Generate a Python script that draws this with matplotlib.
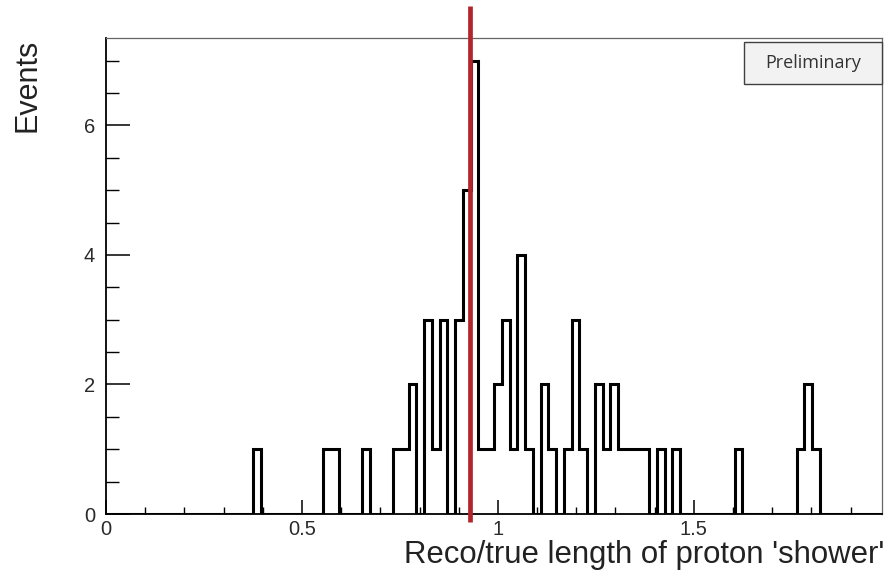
import numpy as np
import matplotlib
matplotlib.use("Agg")
import matplotlib.pyplot as plt
from matplotlib.ticker import MultipleLocator, FixedLocator
from matplotlib.patches import Rectangle

plt.rcParams['font.family'] = ['Liberation Sans', 'DejaVu Sans']

# ---- data ----
x_min, x_max, n_bins = 0.0, 1.98, 100
occupied_bins = [19, 28, 29, 33, 37, 38, 39, 41, 42, 43, 45, 46, 47, 48, 49, 50,
                 51, 52, 53, 54, 56, 57, 59, 60, 61, 63, 64, 65, 66, 67, 68, 69,
                 71, 73, 81, 89, 90, 91]
occupied_counts = [1, 1, 1, 1, 1, 1, 2, 3, 1, 3, 3, 5, 7, 1, 1, 2,
                   3, 1, 4, 1, 2, 1, 1, 3, 1, 2, 1, 2, 1, 1, 1, 1,
                   1, 1, 1, 1, 2, 1]
cut_value = 0.93
x_major_ticks = [0, 0.5, 1, 1.5]
x_tick_labels = ["0", "0.5", "1", "1.5"]
y_major_ticks = [0, 2, 4, 6]
y_tick_labels = ["0", "2", "4", "6"]
y_max = 7.35
x_title = "Reco/true length of proton 'shower'"
y_title = "Events"
badge_text = "Preliminary"

edges = np.linspace(x_min, x_max, n_bins + 1)
counts = np.zeros(n_bins)
counts[occupied_bins] = occupied_counts

W, H = 884, 570
fig = plt.figure(figsize=(W / 100, H / 100), dpi=100)
ax = fig.add_axes([106 / W, 1 - 514 / H, 776 / W, 476 / H])

ax.stairs(counts, edges, baseline=0, color='black', linewidth=2.2, zorder=3)

ax.set_xlim(x_min, x_max)
ax.set_ylim(0, y_max)

# spines
for s in ['left', 'bottom']:
    ax.spines[s].set_color('black')
    ax.spines[s].set_linewidth(1.3)
for s in ['top', 'right']:
    ax.spines[s].set_color('#666666')
    ax.spines[s].set_linewidth(0.9)

ax.xaxis.set_major_locator(FixedLocator(x_major_ticks))
ax.set_xticklabels(x_tick_labels)
ax.xaxis.set_minor_locator(MultipleLocator(0.1))
ax.yaxis.set_major_locator(FixedLocator(y_major_ticks))
ax.set_yticklabels(y_tick_labels)
ax.yaxis.set_minor_locator(MultipleLocator(0.5))

ax.tick_params(axis='x', which='major', direction='in', length=10, width=1.1,
               labelsize=14.5, pad=4, colors='black', labelcolor='#2a2a2a')
ax.tick_params(axis='x', which='minor', direction='in', length=5, width=1.0)
ax.tick_params(axis='y', which='major', direction='in', length=17, width=1.1,
               labelsize=14.5, pad=8, labelcolor='#2a2a2a')
ax.tick_params(axis='y', which='minor', direction='in', length=9, width=1.0)

# axis titles
fig.text(884 / W, 1 - 563 / H, x_title, ha='right', va='baseline',
         fontsize=22.4, color='#222222')
fig.text(28 / W, 1 - 39 / H, y_title, ha='center', va='top', rotation=90,
         fontsize=22, color='#222222')

# red cut line, extending slightly beyond the frame
ax.plot([cut_value, cut_value], [-0.017, 1.067], transform=ax.get_xaxis_transform(),
        color='#b3252d', linewidth=3.4, clip_on=False, zorder=5,
        solid_capstyle='butt')

# Preliminary badge
fig.patches.append(Rectangle((744 / W, 1 - 84 / H), 138 / W, 42 / H,
                             transform=fig.transFigure, facecolor='#f2f2f2',
                             edgecolor='#404040', linewidth=1.0, zorder=6))
fig.text(813 / W, 1 - 63 / H, badge_text, ha='center', va='center',
         fontsize=13, color='#333333', family=['Open Sans', 'DejaVu Sans'],
         zorder=7)

fig.savefig('out.png', dpi=100)
